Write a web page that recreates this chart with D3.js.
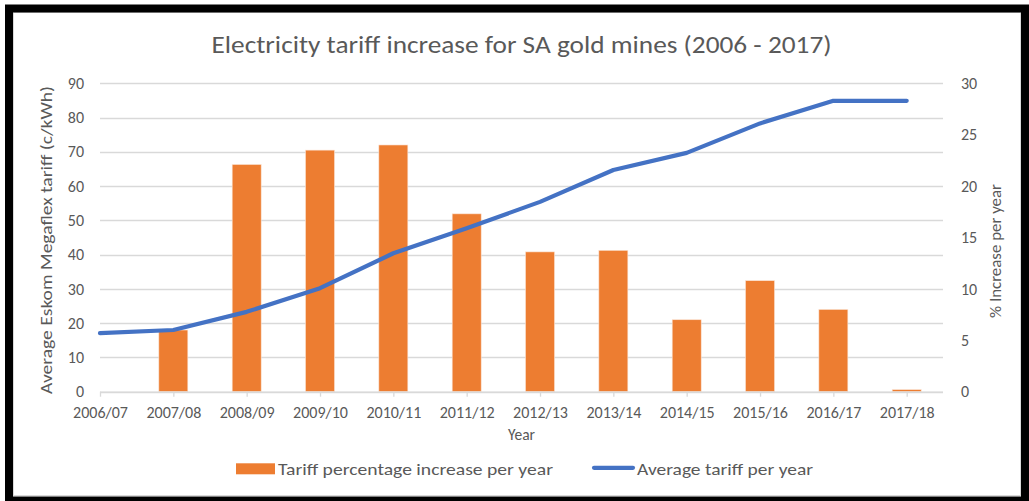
<!DOCTYPE html>
<html>
<head>
<meta charset="utf-8">
<script src="https://cdn.jsdelivr.net/npm/d3@7"></script>
<style>
  html, body { margin: 0; padding: 0; background: #fff; }
  svg { display: block; }
  text { font-family: Carlito, Calibri, Lato, "Open Sans", sans-serif; fill: #595959; }
</style>
</head>
<body>
<svg id="chart" width="1029" height="501"></svg>
<script>
// Financial years on the category axis
const years = ["2006/07", "2007/08", "2008/09", "2009/10", "2010/11", "2011/12",
               "2012/13", "2013/14", "2014/15", "2015/16", "2016/17", "2017/18"];

// Yearly tariff increase (%), right axis; no figure for the first year
const increasePct = [null, 6.0, 22.1, 23.5, 24.0, 17.3, 13.6, 13.75, 7.0, 10.8, 8.0, 0.2];

// Average Eskom Megaflex tariff (c/kWh), left axis
const avgTariff = [17.1, 18.0, 23.3, 30.2, 40.4, 47.7, 55.4, 64.7, 69.7, 78.3, 84.9, 84.9];

// Axis ticks
const leftTicks = [0, 10, 20, 30, 40, 50, 60, 70, 80, 90];
const rightTicks = [0, 5, 10, 15, 20, 25, 30];

const svg = d3.select("#chart");

const plot = { left: 100, right: 943, top: 83.3, bottom: 391.7, lastCat: 906.7 };
const tickFont = 16;

const x = d3.scalePoint().domain(years).range([plot.left, plot.lastCat]);
const yL = d3.scaleLinear().domain([0, 90]).range([plot.bottom, plot.top]);
const yR = d3.scaleLinear().domain([0, 30]).range([plot.bottom, plot.top]);

// Frame around the chart
svg.append("rect")
  .attr("x", 13.5).attr("y", 12.5).attr("width", 1007).attr("height", 483)
  .attr("fill", "#fff").attr("stroke", "#d9d9d9").attr("stroke-width", 1);
svg.append("rect")
  .attr("x", 9).attr("y", 8.5).attr("width", 1016).attr("height", 492)
  .attr("fill", "none").attr("stroke", "#000").attr("stroke-width", 8);

// Title
svg.append("text")
  .attr("x", 521.5).attr("y", 53)
  .attr("text-anchor", "middle")
  .attr("font-size", 25)
  .attr("textLength", 620).attr("lengthAdjust", "spacingAndGlyphs")
  .text("Electricity tariff increase for SA gold mines (2006 - 2017)");

// Horizontal gridlines
svg.append("g")
  .selectAll("line")
  .data(leftTicks)
  .join("line")
  .attr("x1", plot.left).attr("x2", plot.right)
  .attr("y1", d => Math.round(yL(d)) + 0.5).attr("y2", d => Math.round(yL(d)) + 0.5)
  .attr("stroke", "#d9d9d9").attr("stroke-width", 1.3);

// Left axis
const leftAxis = svg.append("g")
  .attr("transform", `translate(${plot.left - 16},0)`)
  .call(d3.axisLeft(yL).tickValues(leftTicks).tickSize(0).tickPadding(0));
leftAxis.select(".domain").remove();
leftAxis.selectAll("text")
  .attr("font-size", tickFont).attr("fill", "#595959")
  .style("font-family", "Carlito, Calibri, Lato, sans-serif");

// Right axis
const rightAxis = svg.append("g")
  .attr("transform", `translate(${plot.right + 18},0)`)
  .call(d3.axisRight(yR).tickValues(rightTicks).tickSize(0).tickPadding(0));
rightAxis.select(".domain").remove();
rightAxis.selectAll("text")
  .attr("font-size", tickFont).attr("fill", "#595959")
  .style("font-family", "Carlito, Calibri, Lato, sans-serif");

// Bars: yearly percentage increase
const barW = 29;
svg.append("g")
  .selectAll("rect")
  .data(years.map((y, i) => ({ year: y, v: increasePct[i] })).filter(d => d.v != null))
  .join("rect")
  .attr("x", d => x(d.year) - barW / 2)
  .attr("width", barW)
  .attr("y", d => yR(d.v))
  .attr("height", d => yR(0) - yR(d.v))
  .attr("fill", "#ED7D31")
  .attr("stroke", "#fbe3d3").attr("stroke-width", 0.6);

// Category axis
const bottomAxis = svg.append("g")
  .attr("transform", `translate(0,${plot.bottom})`)
  .call(d3.axisBottom(x).tickSize(5).tickPadding(10));
bottomAxis.select(".domain")
  .attr("d", `M${plot.left},0.5H${plot.right}`)
  .attr("stroke", "#d9d9d9").attr("stroke-width", 1.3);
bottomAxis.selectAll(".tick line").attr("stroke", "#d9d9d9").attr("stroke-width", 1.3);
bottomAxis.selectAll("text")
  .attr("font-size", tickFont).attr("fill", "#595959")
  .style("font-family", "Carlito, Calibri, Lato, sans-serif");

// Line: average tariff
const line = d3.line()
  .x((d, i) => x(years[i]))
  .y(d => yL(d));
svg.append("path")
  .datum(avgTariff)
  .attr("d", line)
  .attr("fill", "none")
  .attr("stroke", "#4472C4")
  .attr("stroke-width", 4.2)
  .attr("stroke-linejoin", "round")
  .attr("stroke-linecap", "round");

// Axis titles
svg.append("text")
  .attr("x", 521.5).attr("y", 440)
  .attr("text-anchor", "middle")
  .attr("font-size", 15.5)
  .text("Year");

svg.append("text")
  .attr("transform", "translate(52,240) rotate(-90)")
  .attr("text-anchor", "middle")
  .attr("font-size", 15.5)
  .attr("textLength", 308).attr("lengthAdjust", "spacingAndGlyphs")
  .text("Average Eskom Megaflex tariff (c/kWh)");

svg.append("text")
  .attr("transform", "translate(1001,251) rotate(-90)")
  .attr("text-anchor", "middle")
  .attr("font-size", 15.5)
  .attr("textLength", 134).attr("lengthAdjust", "spacingAndGlyphs")
  .text("% Increase per year");

// Legend
const legend = svg.append("g");
legend.append("rect")
  .attr("x", 236).attr("y", 463.3).attr("width", 39).attr("height", 11)
  .attr("fill", "#ED7D31");
legend.append("text")
  .attr("x", 278).attr("y", 474.5)
  .attr("font-size", 15.5)
  .attr("textLength", 275).attr("lengthAdjust", "spacingAndGlyphs")
  .text("Tariff percentage increase per year");
legend.append("line")
  .attr("x1", 594).attr("x2", 633).attr("y1", 467.8).attr("y2", 467.8)
  .attr("stroke", "#4472C4").attr("stroke-width", 4.2).attr("stroke-linecap", "round");
legend.append("text")
  .attr("x", 637).attr("y", 474.5)
  .attr("font-size", 15.5)
  .attr("textLength", 176).attr("lengthAdjust", "spacingAndGlyphs")
  .text("Average tariff per year");
</script>
</body>
</html>
